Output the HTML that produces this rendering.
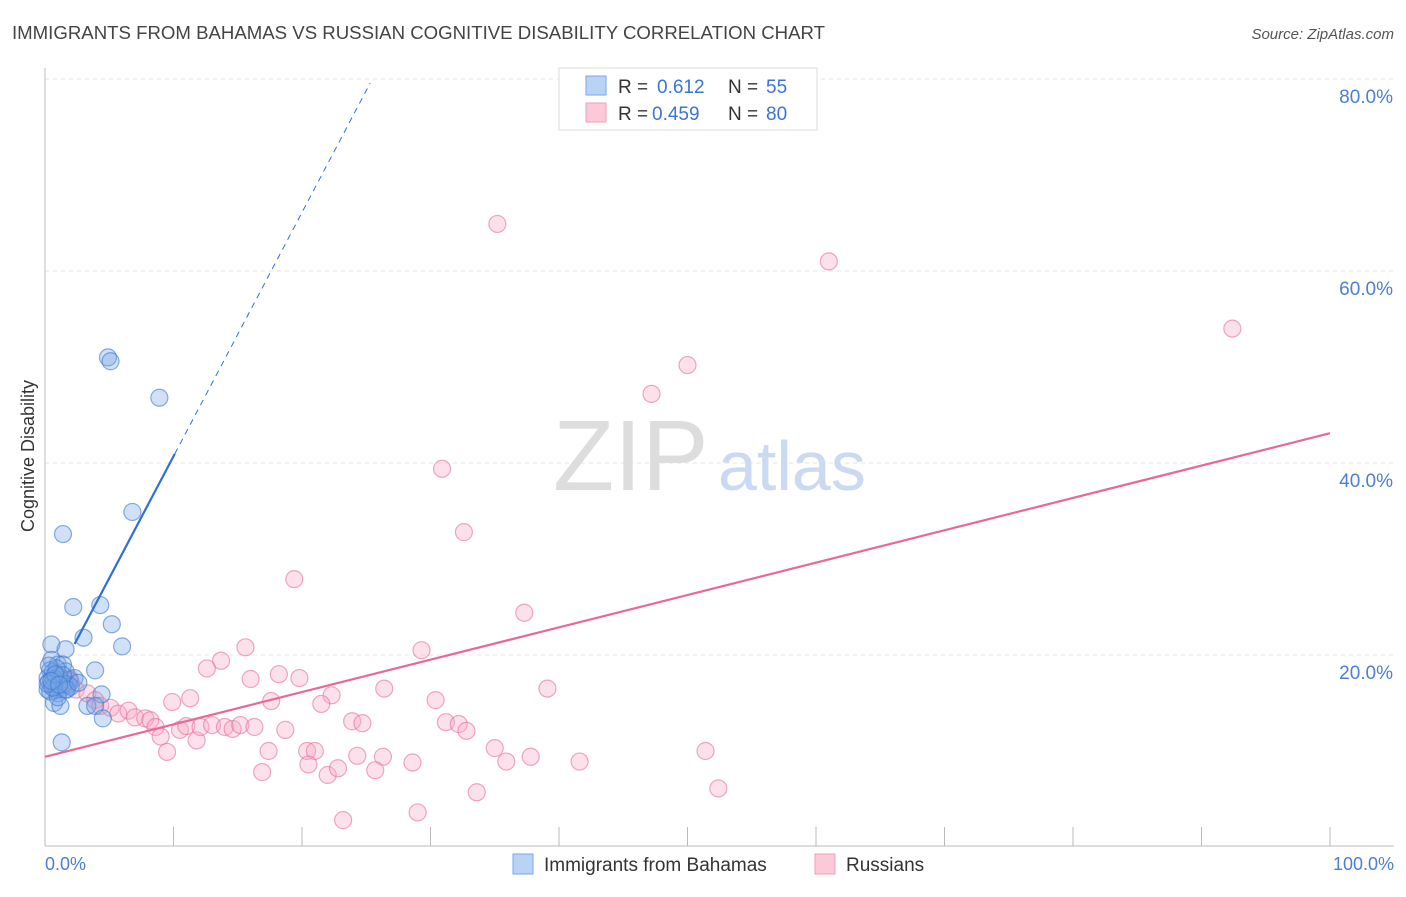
<!DOCTYPE html>
<html><head><meta charset="utf-8"><style>
body{margin:0;background:#fff;font-family:"Liberation Sans",sans-serif;}
svg text{font-family:"Liberation Sans",sans-serif;}
</style></head><body>
<svg id="chart" width="1406" height="892" viewBox="0 0 1406 892" xmlns="http://www.w3.org/2000/svg">
<text x="12" y="39" font-size="18" fill="#444" textLength="813" lengthAdjust="spacingAndGlyphs">IMMIGRANTS FROM BAHAMAS VS RUSSIAN COGNITIVE DISABILITY CORRELATION CHART</text>
<text x="1394" y="39" font-size="15" fill="#555" text-anchor="end" font-style="italic">Source: ZipAtlas.com</text>
<g id="grid"></g>
<text x="553" y="490" font-size="100" fill="#ddd" font-family="Liberation Serif">ZIP</text>
<text x="718" y="490" font-size="70" fill="#c9daf2">atlas</text>
<line x1="45" y1="68" x2="45" y2="846" stroke="#bbb"/>
<line x1="45" y1="846" x2="1394" y2="846" stroke="#bbb"/>
<text transform="translate(34,456) rotate(-90)" font-size="18" fill="#333" text-anchor="middle">Cognitive Disability</text>
<text x="45" y="870" font-size="18" fill="#4a7fd4">0.0%</text>
<text x="1394" y="870" font-size="18" fill="#4a7fd4" text-anchor="end">100.0%</text>
<g id="ticks"></g>
<g id="pts"></g>
<g id="lines"></g>
<g>
<rect x="559" y="68" width="258" height="62" fill="#fff" stroke="#ddd"/>
<rect x="586" y="76" width="20" height="19" fill="#b9d3f5" stroke="#7aa6e6"/>
<rect x="586" y="103" width="20" height="19" fill="#fcc9d8" stroke="#f0a0b8"/>
<text x="618" y="93" font-size="19" fill="#333">R = </text><text x="657" y="93" font-size="19" fill="#3b73d6">0.612</text>
<text x="728" y="93" font-size="19" fill="#333">N = </text><text x="766" y="93" font-size="19" fill="#3b73d6">55</text>
<text x="618" y="120" font-size="19" fill="#333">R = </text><text x="652" y="120" font-size="19" fill="#3b73d6">0.459</text>
<text x="728" y="120" font-size="19" fill="#333">N = </text><text x="766" y="120" font-size="19" fill="#3b73d6">80</text>
</g>
<g>
<rect x="513" y="854" width="20" height="20" fill="#b9d3f5" stroke="#7aa6e6"/>
<text x="544" y="871" font-size="19" fill="#333">Immigrants from Bahamas</text>
<rect x="815" y="854" width="20" height="20" fill="#fcc9d8" stroke="#f0a0b8"/>
<text x="846" y="871" font-size="19" fill="#333">Russians</text>
</g>
</svg>
<script>
const yTicks=[20,40,60,80];
const yTickLabels=["20.0%","40.0%","60.0%","80.0%"];
const xTicks=[0,10,20,30,40,50,60,70,80,90,100];
const blueX=[4.9,5.1,8.9,6.8,1.4,2.2,4.3,5.2,3.0,6.0,0.5,1.6,3.9,0.5,1.0,1.4,0.4,1.6,0.8,0.2,1.2,1.9,2.3,0.5,1.3,0.9,4.4,1.0,0.7,1.2,3.3,3.9,4.5,1.3,0.2,1.6,0.6,1.1,0.3,1.8,0.9,0.4,1.5,0.7,2.0,0.3,1.0,0.6,1.4,0.2,0.8,1.7,0.5,1.1,2.6];
const blueY=[51.0,50.6,46.8,34.9,32.6,25.0,25.2,23.2,21.8,20.9,21.1,20.6,18.4,19.5,19.0,19.0,18.4,18.3,17.9,17.6,17.4,17.4,17.6,16.9,16.8,16.4,15.9,16.0,15.0,14.7,14.7,14.7,13.4,10.9,16.4,16.4,18.2,17.8,17.2,16.9,18.6,16.2,17.0,17.5,16.7,18.9,15.6,16.6,17.9,17.0,18.0,16.4,17.3,16.9,17.1];
const pinkX=[35.2,61.0,92.4,50.0,47.2,30.9,32.6,19.4,37.3,15.6,29.3,13.7,12.6,18.2,16.0,19.8,26.4,39.1,11.3,22.3,9.9,30.4,17.6,21.5,1.9,2.4,3.3,3.9,4.3,5.1,5.7,6.5,7.0,7.8,8.2,8.6,9.0,9.5,10.5,11.0,11.8,12.1,13.0,14.0,14.6,15.2,16.3,17.4,18.7,16.9,20.4,21.0,20.5,22.0,22.8,23.2,23.9,24.7,24.3,26.3,25.7,28.6,29.0,31.2,32.2,32.8,33.6,35.0,35.9,37.8,41.6,51.4,52.4,1.2,1.6,0.8,2.0,1.0,0.6,1.4];
const pinkY=[64.9,61.0,54.0,50.2,47.2,39.4,32.8,27.9,24.4,20.8,20.5,19.4,18.6,18.0,17.5,17.6,16.5,16.5,15.5,15.8,15.1,15.3,15.2,14.9,17.6,16.4,16.0,15.3,14.7,14.5,13.9,14.2,13.5,13.4,13.2,12.5,11.5,9.9,12.2,12.6,11.1,12.5,12.7,12.5,12.3,12.7,12.5,10.0,12.2,7.8,10.0,10.0,8.6,7.5,8.2,2.8,13.1,12.9,9.5,9.4,8.0,8.8,3.6,13.0,12.8,12.1,5.7,10.3,8.9,9.4,8.9,10.0,6.1,17.0,17.4,16.4,17.2,16.8,17.6,16.6];
const blueFit=[15.3,2.54];
const pinkFit=[9.4,0.337];
const NS="http://www.w3.org/2000/svg";
const sx=v=>45+v*12.85, sy=v=>847-v*9.6;
function mk(tag,attrs,parent){const e=document.createElementNS(NS,tag);for(const k in attrs)e.setAttribute(k,attrs[k]);parent.appendChild(e);return e;}
const grid=document.getElementById('grid'),ticks=document.getElementById('ticks'),pts=document.getElementById('pts'),lines=document.getElementById('lines');
yTicks.forEach((t,i)=>{
 const l=mk('line',{x1:45,x2:1394,y1:sy(t),y2:sy(t),stroke:'#e4e4e4','stroke-dasharray':'4,4'},grid);
 
 
 const tx=mk('text',{x:1393,y:sy(t)+24,'font-size':19,fill:'#4a7fd4','text-anchor':'end'},grid);
 tx.textContent=yTickLabels[i];
 
 
});
xTicks.forEach(t=>{
 const l=mk('line',{x1:sx(t),x2:sx(t),y1:827,y2:846,stroke:'#bbb'},ticks);
 
 
});
pinkX.forEach((x,i)=>{
 const c=mk('circle',{cx:sx(x),cy:sy(pinkY[i]),r:8.5,fill:'rgba(248,170,195,0.35)',stroke:'rgba(232,110,150,0.6)','stroke-width':1.2},pts);
 
 
});
blueX.forEach((x,i)=>{
 const c=mk('circle',{cx:sx(x),cy:sy(blueY[i]),r:8.5,fill:'rgba(120,165,230,0.35)',stroke:'rgba(60,120,210,0.6)','stroke-width':1.2},pts);
 
 
});
const bx0=2.3,bx1=10.1,bx2=25.3;
let l1=mk('line',{x1:sx(bx0),y1:sy(blueFit[0]+blueFit[1]*bx0),x2:sx(bx1),y2:sy(blueFit[0]+blueFit[1]*bx1),stroke:'#2f6fd6','stroke-width':2.2},lines);


let l2=mk('line',{x1:sx(bx1),y1:sy(blueFit[0]+blueFit[1]*bx1),x2:sx(bx2),y2:sy(blueFit[0]+blueFit[1]*bx2),stroke:'#2f6fd6','stroke-width':1,'stroke-dasharray':'6,5'},lines);


let l3=mk('line',{x1:sx(0),y1:sy(pinkFit[0]),x2:sx(100),y2:sy(pinkFit[0]+pinkFit[1]*100),stroke:'#e8689a','stroke-width':2.2},lines);


</script>
</body></html>
